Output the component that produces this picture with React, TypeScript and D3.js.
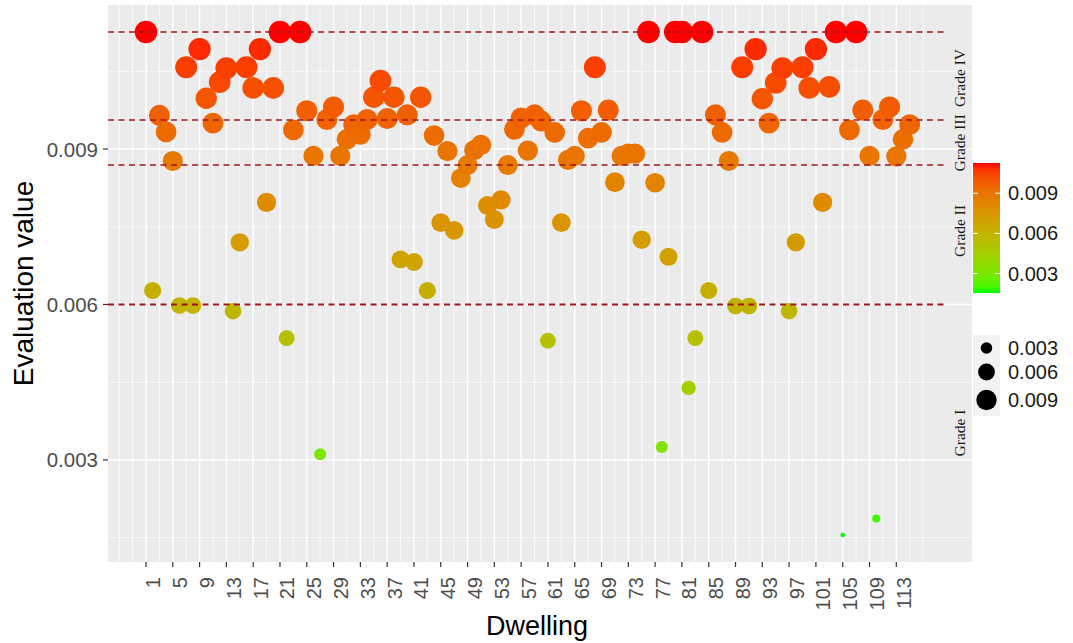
import React from 'react';
import * as d3 from 'd3';

// evaluation value of each dwelling, dwelling 1 .. 115
const evaluation = [
  0.01126, 0.00627, 0.00965, 0.00933, 0.00877, 0.00598, 0.01058, 0.00598, 0.01093, 0.00998,
  0.00950, 0.01029, 0.01056, 0.00587, 0.00720, 0.01058, 0.01018, 0.01093, 0.00797, 0.01018,
  0.01126, 0.00535, 0.00937, 0.01126, 0.00974, 0.00887, 0.00311, 0.00957, 0.00981, 0.00887,
  0.00919, 0.00947, 0.00928, 0.00957, 0.01000, 0.01032, 0.00959, 0.01000, 0.00687, 0.00966,
  0.00682, 0.01000, 0.00627, 0.00926, 0.00758, 0.00896, 0.00743, 0.00844, 0.00869, 0.00898,
  0.00908, 0.00791, 0.00764, 0.00802, 0.00869, 0.00938, 0.00960, 0.00897, 0.00966, 0.00954,
  0.00530, 0.00932, 0.00758, 0.00879, 0.00887, 0.00974, 0.00921, 0.01058, 0.00932, 0.00975,
  0.00836, 0.00887, 0.00891, 0.00891, 0.00725, 0.01126, 0.00835, 0.00325, 0.00692, 0.01126,
  0.01126, 0.00439, 0.00535, 0.01126, 0.00627, 0.00966, 0.00932, 0.00877, 0.00597, 0.01058,
  0.00597, 0.01093, 0.00997, 0.00950, 0.01028, 0.01056, 0.00587, 0.00720, 0.01058, 0.01018,
  0.01093, 0.00797, 0.01020, 0.01126, 0.00155, 0.00937, 0.01126, 0.00975, 0.00887, 0.00187,
  0.00957, 0.00981, 0.00886, 0.00919, 0.00947,
];

const xBreaks = [1, 5, 9, 13, 17, 21, 25, 29, 33, 37, 41, 45, 49, 53, 57, 61, 65, 69, 73, 77, 81, 85, 89, 93, 97, 101, 105, 109, 113];
const xMinorBreaks = [-3, -1, ...xBreaks.map(b => b + 2), 117];
const yBreaks = [0.003, 0.006, 0.009];
const yMinorBreaks = [0.0015, 0.0045, 0.0075, 0.0105];

const gradeLines = [0.006, 0.00869, 0.00956, 0.01126];
const gradeNames = ['Grade I', 'Grade II', 'Grade III', 'Grade IV'];
const gradeLabelAt = [0.00352, 0.00742, 0.00912, 0.01037];

const colourBreaks = [0.009, 0.006, 0.003];
const sizeBreaks = [0.003, 0.006, 0.009];

const W = 1073;
const H = 643;
const panel = { left: 108, right: 972, top: 5, bottom: 562 };
const sans = '"Liberation Sans", Arial, sans-serif';
const serif = '"Liberation Serif", "Times New Roman", serif';

export default function App() {
  const x = d3.scaleLinear().domain([-4.67, 124.3]).range([panel.left, panel.right]);
  const y = d3.scaleLinear().domain([0.00103, 0.01178]).range([panel.bottom, panel.top]);

  const [vmin, vmax] = d3.extent(evaluation) as [number, number];
  const colour = d3.scaleLinear<string>()
    .domain([vmin, vmax])
    .range(['#00ff00', '#ff0000'])
    .interpolate(d3.interpolateLab);
  const unit = d3.scaleLinear().domain([vmin, vmax]).range([0, 1]).clamp(true);
  const size = d3.scaleLinear().domain([0, 1]).range([1, 6]);
  const radius = (v: number) => (3.6 * size(Math.sqrt(unit(v))) + 1) / 2;

  // colour bar
  const bar = { x: 973, w: 27, top: 163, bottom: 293 };
  const barY = d3.scaleLinear().domain([vmin, vmax]).range([bar.bottom, bar.top]);
  const stops = d3.range(0, 1.0001, 0.05);

  // size legend key centres
  const keyY = [348, 372, 400];

  const gradeEnd = x(120.6);

  return (
    <svg width={W} height={H} style={{ position: 'absolute', left: 0, top: 0, background: '#fff' }}>
      <defs>
        <linearGradient id="cbar" x1="0" y1="1" x2="0" y2="0">
          {stops.map(s => (
            <stop key={s} offset={s} stopColor={colour(vmin + s * (vmax - vmin))} />
          ))}
        </linearGradient>
      </defs>

      <rect x={panel.left} y={panel.top} width={panel.right - panel.left} height={panel.bottom - panel.top} fill="#ebebeb" />

      {yMinorBreaks.map(v => (
        <line key={'ym' + v} x1={panel.left} x2={panel.right} y1={y(v)} y2={y(v)} stroke="#fff" strokeWidth={0.7} />
      ))}
      {xMinorBreaks.map(d => (
        <line key={'xm' + d} x1={x(d)} x2={x(d)} y1={panel.top} y2={panel.bottom} stroke="#fff" strokeWidth={0.7} />
      ))}
      {yBreaks.map(v => (
        <line key={'y' + v} x1={panel.left} x2={panel.right} y1={y(v)} y2={y(v)} stroke="#fff" strokeWidth={1.4} />
      ))}
      {xBreaks.map(d => (
        <line key={'x' + d} x1={x(d)} x2={x(d)} y1={panel.top} y2={panel.bottom} stroke="#fff" strokeWidth={1.4} />
      ))}

      {evaluation.map((v, i) => (
        <circle key={i} cx={x(i + 1)} cy={y(v)} r={radius(v)} fill={colour(v)} />
      ))}

      {gradeLines.map((v, i) => (
        <line key={'g' + v} x1={panel.left} x2={gradeEnd} y1={y(v)} y2={y(v)}
          stroke="#a3141c" strokeWidth={i === 0 ? 2.2 : 1.5} strokeDasharray="6 4.5" />
      ))}
      {gradeNames.map((g, i) => (
        <text key={g} transform={`translate(959,${y(gradeLabelAt[i])}) rotate(-90)`}
          textAnchor="middle" dominantBaseline="central" fontFamily={serif} fontSize={15.5} fill="#1a1a1a">{g}</text>
      ))}

      {/* y axis */}
      {yBreaks.map(v => (
        <g key={'yt' + v}>
          <line x1={panel.left - 5} x2={panel.left} y1={y(v)} y2={y(v)} stroke="#333" strokeWidth={1.2} />
          <text x={panel.left - 10} y={y(v)} textAnchor="end" dominantBaseline="central"
            fontFamily={sans} fontSize={20.5} fill="#4d4d4d">{v.toFixed(3)}</text>
        </g>
      ))}
      <text transform={`translate(33,${(panel.top + panel.bottom) / 2}) rotate(-90)`} textAnchor="middle"
        fontFamily={sans} fontSize={28} fill="#000">Evaluation value</text>

      {/* x axis */}
      {xBreaks.map(d => (
        <g key={'xt' + d}>
          <line x1={x(d)} x2={x(d)} y1={panel.bottom} y2={panel.bottom + 5} stroke="#333" strokeWidth={1.2} />
          <text transform={`translate(${x(d)},577) rotate(-90)`} dy="0.72em" textAnchor="end"
            fontFamily={sans} fontSize={20} fill="#4d4d4d">{d}</text>
        </g>
      ))}
      <text x={537} y={635} textAnchor="middle" fontFamily={sans} fontSize={27} fill="#000">Dwelling</text>

      {/* colour legend */}
      <rect x={bar.x} y={bar.top} width={bar.w} height={bar.bottom - bar.top} fill="url(#cbar)" />
      {colourBreaks.map(v => (
        <g key={'cb' + v}>
          <line x1={bar.x} x2={bar.x + 5} y1={barY(v)} y2={barY(v)} stroke="#fff" strokeWidth={1} />
          <line x1={bar.x + bar.w - 5} x2={bar.x + bar.w} y1={barY(v)} y2={barY(v)} stroke="#fff" strokeWidth={1} />
          <text x={1008} y={barY(v)} dominantBaseline="central" fontFamily={sans} fontSize={20} fill="#1a1a1a">{v.toFixed(3)}</text>
        </g>
      ))}

      {/* size legend */}
      <rect x={bar.x} y={335} width={bar.w} height={81} fill="#f2f2f2" />
      {sizeBreaks.map((v, i) => (
        <g key={'sz' + v}>
          <circle cx={bar.x + bar.w / 2} cy={keyY[i]} r={radius(v)} fill="#000" />
          <text x={1008} y={keyY[i]} dominantBaseline="central" fontFamily={sans} fontSize={20} fill="#1a1a1a">{v.toFixed(3)}</text>
        </g>
      ))}
    </svg>
  );
}
